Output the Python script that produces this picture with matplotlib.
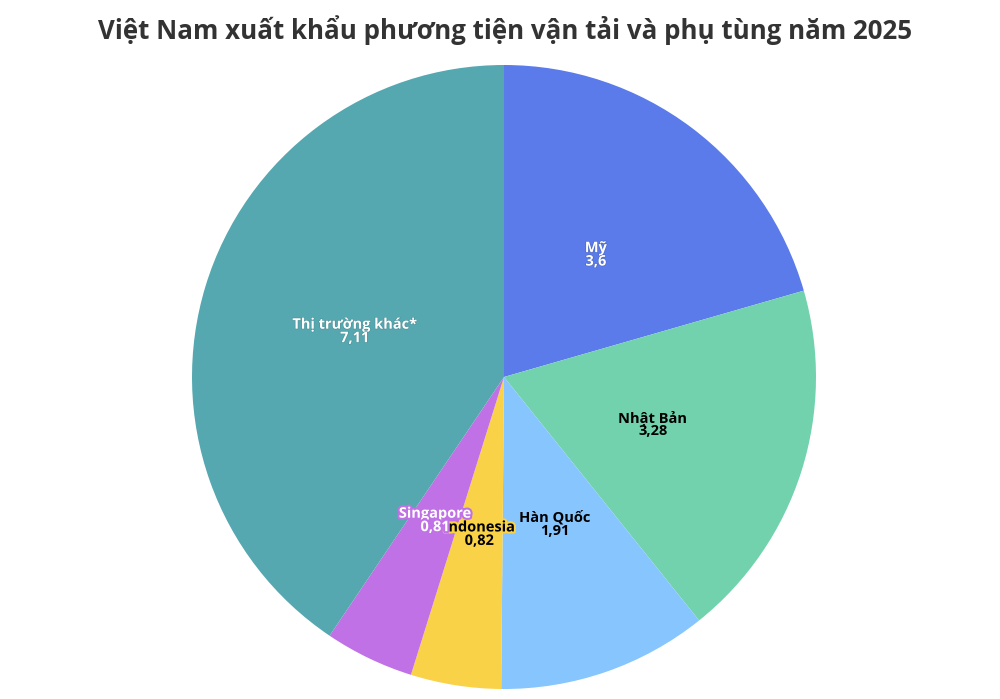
import matplotlib
matplotlib.use("Agg")
import matplotlib.pyplot as plt
import matplotlib.patheffects as pe
import numpy as np

labels = ["Mỹ", "Nhật Bản", "Hàn Quốc", "Indonesia", "Singapore", "Thị trường khác*"]
values = [3.6, 3.28, 1.91, 0.82, 0.81, 7.11]
value_text = ["3,6", "3,28", "1,91", "0,82", "0,81", "7,11"]
colors = ["#5a7be9", "#72d2ae", "#86c5fd", "#fad247", "#c171e6", "#55a7b0"]
text_colors = ["white", "black", "black", "black", "white", "white"]
stroke_colors = ["#4a65c0", None, None, "#fad247", "#c171e6", "#4a8f97"]
stroke_widths = [0.8, 0, 0, 3, 3, 0.8]

fig = plt.figure(figsize=(10, 6.99), dpi=100)
ax = fig.add_axes([0.192, 0.0143, 0.624, 0.8927])
wedges, _ = ax.pie(values, colors=colors, startangle=90, counterclock=False,
                   radius=1.0, wedgeprops=dict(linewidth=0))
ax.set_xlim(-1, 1)
ax.set_ylim(-1, 1)
ax.set_aspect("equal")
ax.axis("off")

label_r = [0.49, 0.50, 0.50, 0.51, 0.51, 0.50]
for w, lab, vt, tc, sc, sw, r in zip(wedges, labels, value_text, text_colors,
                                     stroke_colors, stroke_widths, label_r):
    ang = np.deg2rad((w.theta1 + w.theta2) / 2)
    x, y = r * np.cos(ang), r * np.sin(ang)
    effects = [pe.withStroke(linewidth=sw, foreground=sc)] if sc else []
    ax.text(x, y, f"{lab}\n{vt}", ha="center", va="center", fontsize=10.5,
            fontweight="bold", color=tc, family=["Open Sans", "DejaVu Sans"],
            linespacing=0.95, path_effects=effects)

fig.text(0.505, 0.957, "Việt Nam xuất khẩu phương tiện vận tải và phụ tùng năm 2025",
         ha="center", va="center", fontsize=18.6, fontweight="bold", color="#333333",
         family=["Open Sans", "DejaVu Sans"])

fig.savefig("out.png", dpi=100, facecolor="white")
